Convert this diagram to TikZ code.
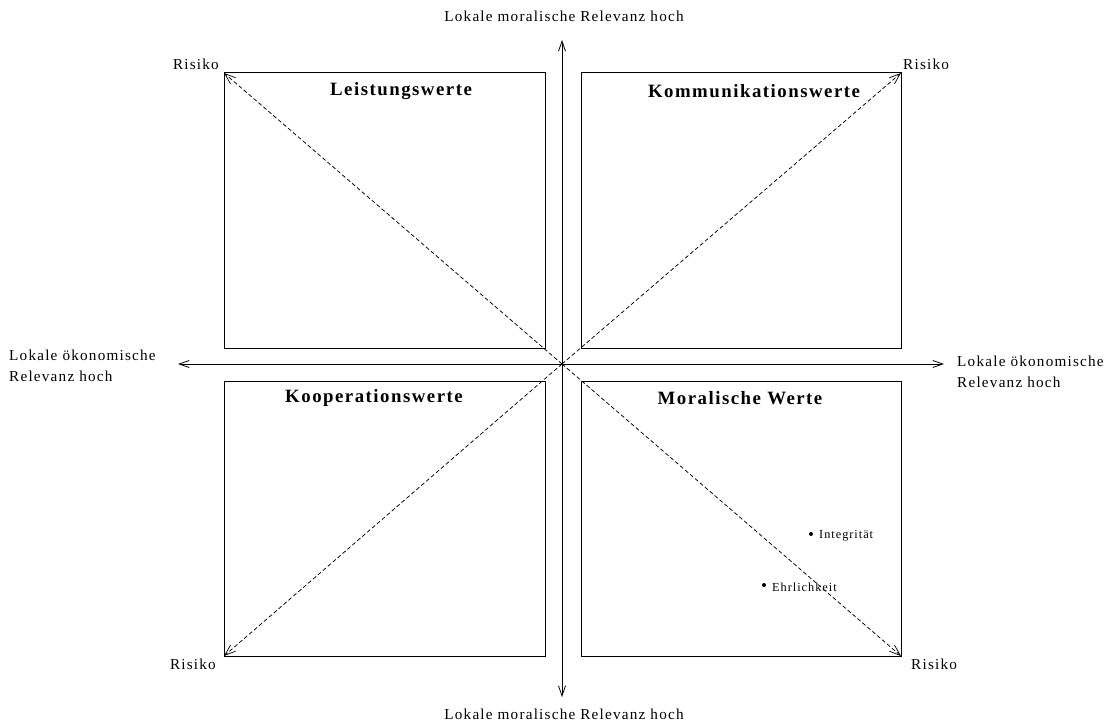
\documentclass[tikz,border=0pt]{standalone}
\usepackage{fontspec}
\setmainfont{Liberation Serif}[LetterSpace=8]
\usetikzlibrary{arrows.meta}
\tikzset{
  quad/.style={draw, line width=1pt},
  axis/.style={draw, line width=1pt, -{Straight Barb[length=10pt,width=7pt,line width=0.8pt]}},
  risk/.style={draw, line width=0.75pt, dashed, dash pattern=on 4pt off 2.5pt, -{Straight Barb[length=11pt,width=8pt,line width=0.7pt]}},
  lbl/.style={font=\fontsize{15.2}{21}\selectfont, inner sep=0pt},
  ttl/.style={font=\fontsize{18.8}{22}\selectfont\bfseries, inner sep=0pt},
  sml/.style={font=\fontsize{12.3}{14}\selectfont, inner sep=0pt, anchor=west},
  pt/.style={circle, fill, inner sep=0pt, minimum size=4pt}
}
\begin{document}
\begin{tikzpicture}[x=1pt,y=-1pt]
\useasboundingbox (0,0) rectangle (1111,722);
% quadrants
\draw[quad] (224,73) rectangle (545,348);
\draw[quad] (581,73) rectangle (901,348);
\draw[quad] (224,381) rectangle (545,656);
\draw[quad] (581,381) rectangle (901,656);
% center and endpoints
\coordinate (c) at (562,364);
\coordinate (top) at (562,40);
\coordinate (bot) at (562,697);
\coordinate (lft) at (178,364);
\coordinate (rgt) at (944,364);
\coordinate (tl) at (224,73);
\coordinate (tr) at (901,73);
\coordinate (bl) at (224,656);
\coordinate (br) at (901,656);
\draw[axis] (c) -- (top);
\draw[axis] (c) -- (bot);
\draw[axis] (c) -- (lft);
\draw[axis] (c) -- (rgt);
\draw[risk] (c) -- (tl);
\draw[risk] (c) -- (tr);
\draw[risk] (c) -- (bl);
\draw[risk] (c) -- (br);
% titles
\node[ttl] (t1) at (401,91) {Leistungswerte};
\node[ttl] (t2) at (754,91) {Kommunikationswerte};
\node[ttl] (t3) at (374,398) {Kooperationswerte};
\node[ttl] (t4) at (740,398) {Moralische Werte};
% axis labels
\node[lbl] (ltop) at (564,16) {Lokale moralische Relevanz hoch};
\node[lbl] (lbot) at (564,714) {Lokale moralische Relevanz hoch};
\node[lbl, anchor=west, align=left] (llft) at (9,366) {Lokale ökonomische\\Relevanz hoch};
\node[lbl, anchor=west, align=left] (lrgt) at (957,372) {Lokale ökonomische\\Relevanz hoch};
% risk labels
\node[lbl, anchor=east] (r1) at (219,64) {Risiko};
\node[lbl, anchor=west] (r2) at (903,64) {Risiko};
\node[lbl, anchor=east] (r3) at (216,664) {Risiko};
\node[lbl, anchor=west] (r4) at (911,664) {Risiko};
% values
\node[pt] (p1) at (811,534) {};
\node[sml] (i1) at (819,536) {Integrität};
\node[pt] (p2) at (764,585) {};
\node[sml] (e1) at (772,587) {Ehrlichkeit};
\end{tikzpicture}
\end{document}
